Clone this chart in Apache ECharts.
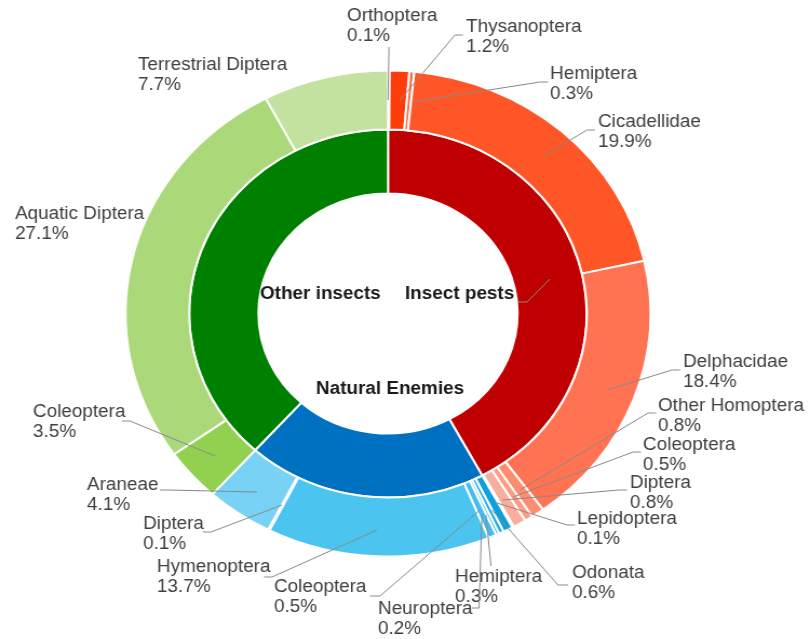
<!DOCTYPE html>
<html>
<head>
<meta charset="utf-8">
<script src="https://cdn.jsdelivr.net/npm/echarts@6/dist/echarts.min.js"></script>
<style>
  html, body { margin: 0; padding: 0; background: #fff; overflow: hidden; }
  /* the doughnut is drawn slightly wider than tall */
  #chart { width: 748px; height: 639px; transform: scaleX(1.08); transform-origin: 0 0; }
</style>
</head>
<body>
<div id="chart"></div>
<script>
// ---- data (percent of all individuals) ----
const groupNames = ['Insect pests', 'Natural Enemies', 'Other insects'];

const pestNames  = ['Orthoptera', 'Thysanoptera', 'Hemiptera', 'Cicadellidae', 'Delphacidae',
                    'Other Homoptera', 'Coleoptera', 'Diptera', 'Lepidoptera'];
const pestValues = [0.1, 1.2, 0.3, 19.9, 18.4, 0.8, 0.5, 0.8, 0.1];

const enemyNames  = ['Odonata', 'Hemiptera', 'Neuroptera', 'Coleoptera', 'Hymenoptera', 'Diptera', 'Araneae'];
const enemyValues = [0.6, 0.3, 0.2, 0.5, 13.7, 0.1, 4.1];

const otherNames  = ['Coleoptera', 'Aquatic Diptera', 'Terrestrial Diptera'];
const otherValues = [3.5, 27.1, 7.7];

// ---- styling ----
const SX = 1.08;                      // horizontal stretch of the drawing
const groupColors = ['#c00000', '#0070c0', '#008000'];
const pestColors  = ['#ff3a10', '#ff3d0a', '#ff6a45', '#ff5628', '#ff7352', '#ff8c6e', '#ff9c84', '#f9ad9b', '#fcc4b8'];
const enemyColors = ['#0ea0de', '#22aee6', '#34b6ea', '#44bdee', '#4cc4f0', '#62cbf2', '#78d2f5'];
const otherColors = ['#92d050', '#abd97a', '#c3e29f'];

// label anchor (text block top-left) and leader polyline, in page pixels
const pestSpots = [
  [347, 6,   [[388, 100], [389, 47]]],
  [466, 17,  [[400, 100], [455, 35], [463, 35]]],
  [550, 64,  [[412, 102], [540, 82], [548, 82]]],
  [598, 112, [[545, 155], [587, 130], [595, 130]]],
  [683, 352, [[607, 390], [672, 370], [680, 370]]],
  [658, 396, [[520, 490], [648, 413], [656, 413]]],
  [643, 435, [[513, 497], [633, 452], [641, 452]]],
  [630, 473, [[503, 500], [619, 490], [627, 490]]],
  [577, 509, [[497, 503], [567, 525], [575, 525]]]
];
const enemySpots = [
  [572, 563, [[492, 510], [558, 585], [568, 585]]],
  [455, 567, [[486, 515], [491, 566]]],
  [378, 599, [[482, 514], [479, 608], [472, 608]]],
  [274, 577, [[480, 510], [380, 596], [370, 596]]],
  [157, 557, [[377, 530], [272, 577], [264, 577]]],
  [143, 514, [[282, 505], [211, 532], [203, 532]]],
  [87,  475, [[257, 492], [168, 490], [160, 490]]]
];
const otherSpots = [
  [33,  402, [[215, 456], [130, 421], [122, 421]]],
  [15,  204, null],
  [138, 55,  null]
];
const groupSpots = [
  [405, 284, [[550, 279], [527, 302], [518, 302]]],
  [316, 379, null],
  [260, 284, null]
];

const outerNames  = pestNames.concat(enemyNames, otherNames);
const outerValues = pestValues.concat(enemyValues, otherValues);
const outerColors = pestColors.concat(enemyColors, otherColors);
const outerSpots  = pestSpots.concat(enemySpots, otherSpots);

const groupValues = [pestValues, enemyValues, otherValues].map(
  arr => Math.round(arr.reduce((s, v) => s + v, 0) * 10) / 10
);

function buildItems(names, values, colors) {
  return names.map((n, i) => ({
    name: n,
    value: values[i],
    itemStyle: { color: colors[i] }
  }));
}

function layoutFrom(spots) {
  return function (p) {
    const s = spots[p.dataIndex];
    return { x: s[0] / SX, y: s[1], align: 'left', verticalAlign: 'top' };
  };
}

// leader lines are drawn on top of the rings
const leaderLines = outerSpots.concat(groupSpots)
  .filter(s => s[2])
  .map(s => ({
    type: 'polyline',
    silent: true,
    z: 100,
    shape: { points: s[2].map(pt => [pt[0] / SX, pt[1]]) },
    style: { stroke: '#8a8a8a', lineWidth: 1, fill: null }
  }));

const center = [388 / SX, 313.5];
const FONT = 'Liberation Sans, Arial, sans-serif';

const chart = echarts.init(document.getElementById('chart'), null, { renderer: 'canvas' });
chart.setOption({
  animation: false,
  backgroundColor: '#ffffff',
  graphic: { elements: leaderLines },
  series: [
    {
      type: 'pie',
      name: 'groups',
      center: center,
      radius: [120, 184],
      startAngle: 90,
      clockwise: true,
      avoidLabelOverlap: false,
      silent: true,
      itemStyle: { borderColor: '#ffffff', borderWidth: 2 },
      label: {
        show: true,
        position: 'outside',
        formatter: p => p.name,
        fontFamily: FONT,
        fontSize: 17.5,
        fontWeight: 'bold',
        lineHeight: 20,
        color: '#1a1a1a'
      },
      labelLine: { show: false },
      labelLayout: layoutFrom(groupSpots),
      emphasis: { disabled: true },
      data: buildItems(groupNames, groupValues, groupColors)
    },
    {
      type: 'pie',
      name: 'taxa',
      center: center,
      radius: [184, 243],
      startAngle: 90,
      clockwise: true,
      avoidLabelOverlap: false,
      silent: true,
      itemStyle: { borderColor: '#ffffff', borderWidth: 2 },
      label: {
        show: true,
        position: 'outside',
        formatter: p => p.name + '\n' + p.value.toFixed(1) + '%',
        fontFamily: FONT,
        fontSize: 17.5,
        lineHeight: 20,
        color: '#404040'
      },
      labelLine: { show: false },
      labelLayout: layoutFrom(outerSpots),
      emphasis: { disabled: true },
      data: buildItems(outerNames, outerValues, outerColors)
    }
  ]
});
</script>
</body>
</html>
